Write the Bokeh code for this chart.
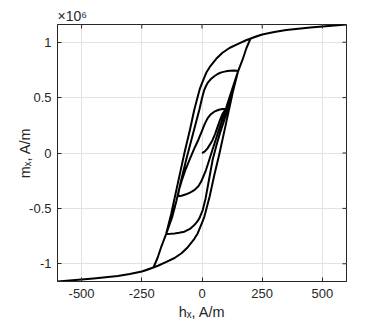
import math
from bokeh.plotting import figure
from bokeh.models import Range1d, FixedTicker, ColumnDataSource
from bokeh.embed import file_html
from bokeh.resources import INLINE

# ---- data: h in A/m, m in units of 1e6 A/m ----
# initial magnetisation curve 0 -> 100
h_init = [0, 3, 12, 23, 34, 44, 55, 65, 75, 85, 93, 100]
m_init = [0, 0.003, 0.015, 0.042, 0.08, 0.118, 0.175, 0.238, 0.30, 0.352, 0.38, 0.40]

# descending 100 -> -100
h_d100 = [100, 85, 70, 51, 37, 23.5, 16, 8, 0, -15, -30, -52, -70, -85, -95, -100]
m_d100 = [0.40, 0.397, 0.39, 0.373, 0.35, 0.314, 0.283, 0.245, 0.20, 0.12, 0.05, -0.063, -0.16, -0.255, -0.33, -0.39]

# ascending -100 -> 150
h_a150 = [-100, -85, -66, -50, -32, -15, -4, 6, 16.5, 30, 45, 60, 75, 92, 105, 120, 135, 150]
m_a150 = [-0.39, -0.386, -0.373, -0.357, -0.335, -0.30, -0.26, -0.21, -0.154, -0.063, 0.04, 0.14, 0.24, 0.35, 0.44, 0.54, 0.64, 0.74]

# descending 150 -> -150
h_d150 = [150, 135, 115, 99, 80, 65, 51, 37, 25, 16.5, 9.5, 0, -11, -25, -45, -66, -88, -106, -124, -149]
m_d150 = [0.74, 0.745, 0.743, 0.737, 0.728, 0.713, 0.693, 0.668, 0.638, 0.605, 0.57, 0.495, 0.39, 0.275, 0.11, -0.063, -0.26, -0.43, -0.58, -0.732]

# ascending -150 -> 600
h_a600 = [-149, -130, -114, -95, -73, -50, -32, -20, -11, 3, 15, 30, 44, 60, 75, 90, 106, 120, 135, 149,
          168, 185, 202, 230, 250, 300, 350, 400, 450, 500, 550, 600]
m_a600 = [-0.732, -0.730, -0.726, -0.72, -0.71, -0.685, -0.651, -0.62, -0.59, -0.515, -0.41, -0.23, -0.063,
          0.07, 0.18, 0.28, 0.39, 0.50, 0.62, 0.732, 0.84, 0.95, 1.035, 1.057, 1.07, 1.092, 1.11, 1.122,
          1.133, 1.143, 1.152, 1.16]

# major loop, descending 600 -> -600
h_dmaj = [600, 550, 500, 450, 400, 350, 300, 250, 211, 183, 150, 114, 85, 59, 35, 18, 0, -9.5, -16.5, -32,
          -50, -73, -100, -128, -149, -168, -185, -202, -230, -250, -300, -350, -400, -450, -500, -550, -600]
m_dmaj = [1.16, 1.152, 1.143, 1.133, 1.122, 1.11, 1.092, 1.07, 1.04, 1.018, 0.985, 0.948, 0.905, 0.85, 0.785,
          0.726, 0.63, 0.576, 0.52, 0.39, 0.21, 0.0, -0.27, -0.55, -0.732, -0.84, -0.95, -1.035, -1.057,
          -1.07, -1.092, -1.11, -1.122, -1.133, -1.143, -1.152, -1.16]

# major loop, ascending -600 -> 600
h_amaj = [-600, -550, -500, -450, -400, -350, -300, -250, -211, -183, -150, -114, -85, -59, -35, -18, 0, 9.5,
          16.5, 32, 50, 73, 100, 128, 149, 168, 185, 202, 230, 250, 300, 350, 400, 450, 500, 550, 600]
m_amaj = [-1.16, -1.152, -1.143, -1.133, -1.122, -1.11, -1.092, -1.07, -1.04, -1.018, -0.985, -0.948, -0.905,
          -0.85, -0.785, -0.726, -0.63, -0.576, -0.52, -0.39, -0.21, 0.0, 0.27, 0.55, 0.732, 0.84, 0.95,
          1.035, 1.057, 1.07, 1.092, 1.11, 1.122, 1.133, 1.143, 1.152, 1.16]

x_ticks = [-500, -250, 0, 250, 500]
y_ticks = [-1, -0.5, 0, 0.5, 1]
y_tick_labels = {-1: "-1", -0.5: "-0.5", 0: "0", 0.5: "0.5", 1: "1"}
x_tick_labels = {-500: "-500", -250: "-250", 0: "0", 250: "250", 500: "500"}
x_lim = (-600, 600)
y_lim = (-1.16, 1.16)

branches_h = [h_init, h_d100, h_a150, h_d150, h_a600, h_dmaj, h_amaj]
branches_m = [m_init, m_d100, m_a150, m_d150, m_a600, m_dmaj, m_amaj]
hs, ms = [], []
for bh, bm in zip(branches_h, branches_m):
    start = 1 if hs else 0
    hs += bh[start:]
    ms += bm[start:]
src = ColumnDataSource(dict(h=hs, m=ms))

DARK = "#262626"
FONT = "Liberation Sans"

p = figure(width=374, height=326, output_backend="svg", toolbar_location=None,
           x_range=Range1d(*x_lim), y_range=Range1d(*y_lim),
           min_border_left=57, min_border_right=28, min_border_top=24, min_border_bottom=45)
p.background_fill_color = "white"
p.border_fill_color = "white"
p.outline_line_color = DARK
p.outline_line_width = 1
p.outline_line_alpha = 1

p.title.text = "\u00d710\u2076"
p.title.align = "left"
p.title.offset = 0
p.title.standoff = 1
p.title.text_font = FONT
p.title.text_font_size = "14px"
p.title.text_font_style = "normal"
p.title.text_color = DARK

p.grid.grid_line_color = "#e3e3e3"
p.xgrid.ticker = FixedTicker(ticks=x_ticks)
p.ygrid.ticker = FixedTicker(ticks=y_ticks)

p.line("h", "m", source=src, line_color="black", line_width=2.0, line_join="round")

# inward ticks on the top and right edges of the box (half of each dash is clipped by the frame)
p.scatter(x=x_ticks, y=[y_lim[1]] * len(x_ticks), marker="dash", size=8, angle=math.pi / 2,
          line_color=DARK, line_width=1)
p.scatter(x=[x_lim[1]] * len(y_ticks), y=y_ticks, marker="dash", size=8,
          line_color=DARK, line_width=1)

for ax in (p.xaxis[0], p.yaxis[0]):
    ax.axis_line_color = DARK
    ax.major_tick_line_color = DARK
    ax.major_tick_in = 4
    ax.major_tick_out = 0
    ax.minor_tick_line_color = None
    ax.major_label_text_font = FONT
    ax.major_label_text_font_size = "13px"
    ax.major_label_text_color = DARK
    ax.axis_label_text_font = FONT
    ax.axis_label_text_font_size = "14.5px"
    ax.axis_label_text_font_style = "normal"
    ax.axis_label_text_color = DARK

p.xaxis[0].ticker = FixedTicker(ticks=x_ticks)
p.yaxis[0].ticker = FixedTicker(ticks=y_ticks)
p.xaxis[0].major_label_overrides = x_tick_labels
p.yaxis[0].major_label_overrides = y_tick_labels
p.xaxis[0].major_label_standoff = 7
p.yaxis[0].major_label_standoff = 6
p.xaxis[0].axis_label = "h\u2093, A/m"
p.yaxis[0].axis_label = "m\u2093, A/m"
p.xaxis[0].axis_label_standoff = 3
p.yaxis[0].axis_label_standoff = -7

open("out.html", "w").write(file_html(p, INLINE))
